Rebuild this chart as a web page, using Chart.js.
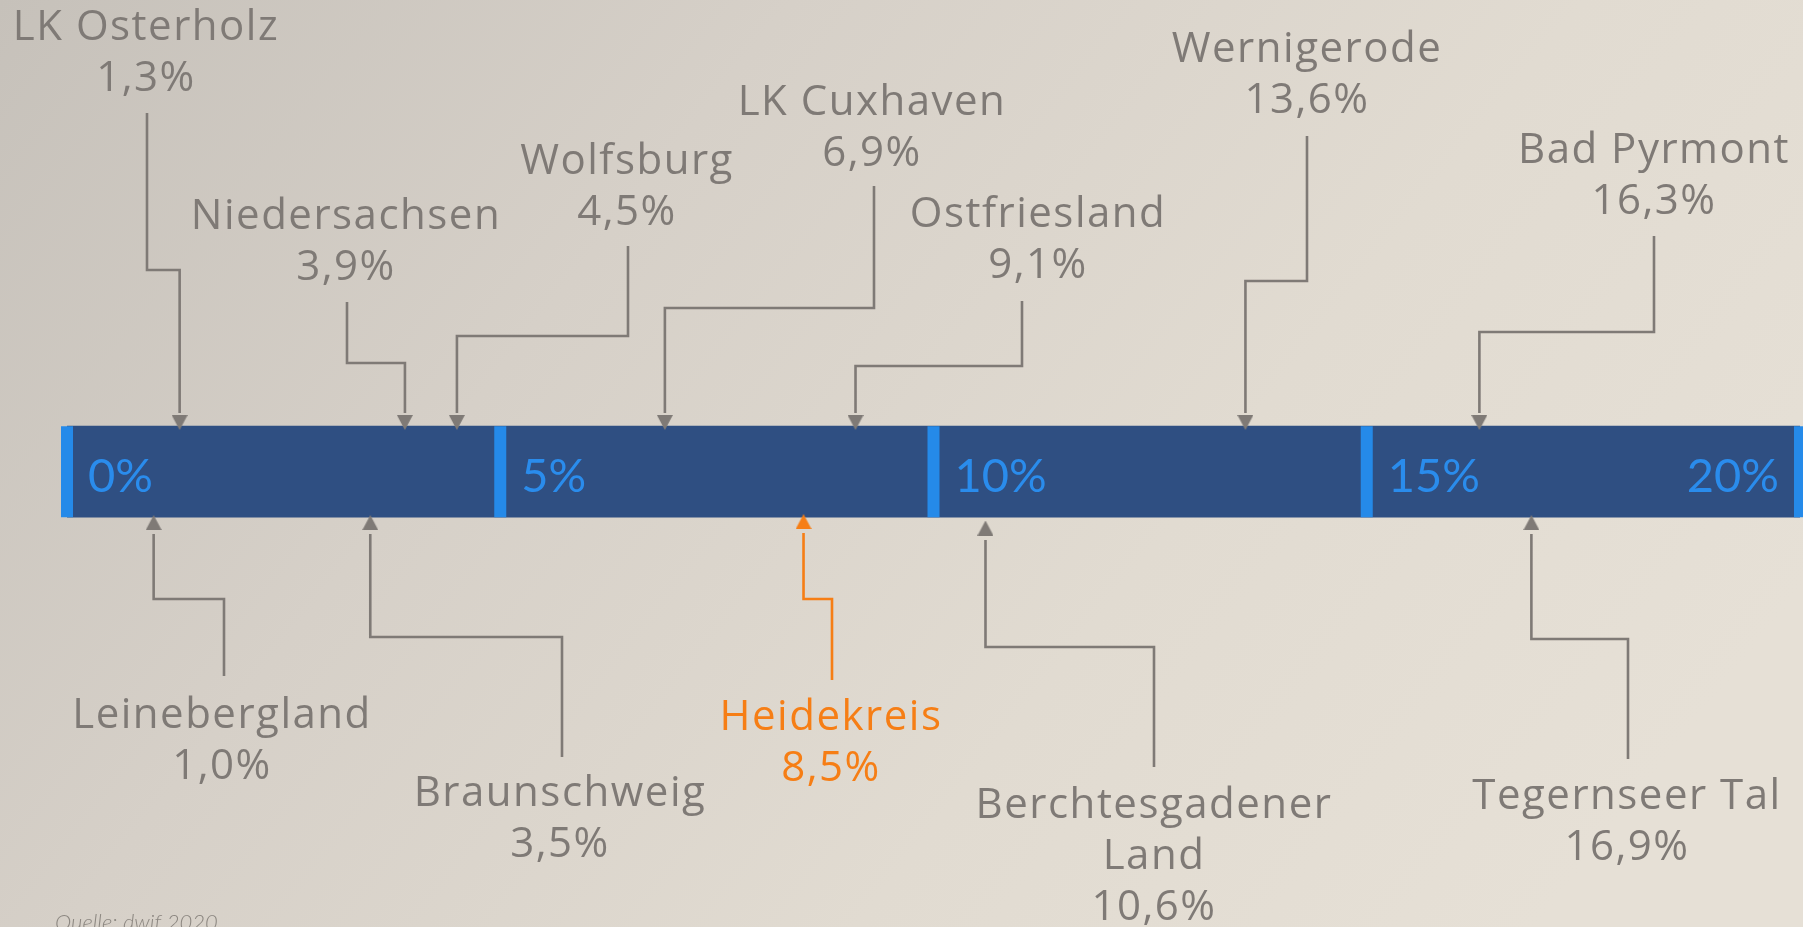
<!DOCTYPE html>
<html><head><meta charset="utf-8">
<script src="https://cdn.jsdelivr.net/npm/chart.js@4"></script>
<style>html,body{margin:0;padding:0;overflow:hidden;background:#d8d2c9}canvas{display:block}</style>
</head><body>
<canvas id="c" width="1803" height="927"></canvas>
<script>
// ---------- DATA ----------
const categories = ["LK Osterholz","Niedersachsen","Wolfsburg","LK Cuxhaven","Ostfriesland","Wernigerode","Bad Pyrmont","Leinebergland","Braunschweig","Heidekreis","Berchtesgadener Land","Tegernseer Tal"];
const shares = [1.3, 3.9, 4.5, 6.9, 9.1, 13.6, 16.3, 1.0, 3.5, 8.5, 10.6, 16.9];
const highlighted = ["Heidekreis"];
const tickValues = [0, 5, 10, 15, 20];
const tickLabels = ["0%", "5%", "10%", "15%", "20%"];
const sourceNote = "Quelle: dwif 2020";

// ---------- LAYOUT (pixels) ----------
const BAND = { top: 427, bottom: 518, center: 472.5, thickness: 91, padFrom: -0.07, padTo: 0.05 };
const ARROW_W = 16, ARROW_H = 15, TOP_TIP = 426;
const LINE_GAP = 51;
const labelLayout = {
  "LK Osterholz":        { side: "top", tx: 146,  by: 40,  lx: 147,  ly: 113, ey: 270 },
  "Niedersachsen":       { side: "top", tx: 346,  by: 229, lx: 347,  ly: 302, ey: 363 },
  "Wolfsburg":           { side: "top", tx: 627,  by: 174, lx: 628,  ly: 246, ey: 336 },
  "LK Cuxhaven":         { side: "top", tx: 872,  by: 115, lx: 874,  ly: 186, ey: 308 },
  "Ostfriesland":        { side: "top", tx: 1038, by: 227, lx: 1022, ly: 301, ey: 366 },
  "Wernigerode":         { side: "top", tx: 1307, by: 62,  lx: 1307, ly: 136, ey: 281 },
  "Bad Pyrmont":         { side: "top", tx: 1654, by: 163, lx: 1654, ly: 236, ey: 332 },
  "Leinebergland":       { side: "bottom", tx: 222,  by: 728, lx: 224,  ly: 676, ey: 599, tip: 521 },
  "Braunschweig":        { side: "bottom", tx: 560,  by: 806, lx: 562,  ly: 757, ey: 637, tip: 521 },
  "Heidekreis":          { side: "bottom", tx: 831,  by: 730, lx: 832,  ly: 680, ey: 599, tip: 520 },
  "Berchtesgadener Land":{ side: "bottom", tx: 1154, by: 818, lx: 1154, ly: 767, ey: 647, tip: 527, wrap: true },
  "Tegernseer Tal":      { side: "bottom", tx: 1627, by: 809, lx: 1628, ly: 759, ey: 639, tip: 521 }
};

const NAVY = "#2f4f82", TICK_BLUE = "#258ae9", TICK_TEXT = "#2a8cec";
const GRAY = "#7f7a76", ORANGE = "#f67e15";
const LABEL_FONT = '42px "Open Sans"';

const fmt = v => v.toFixed(1).replace('.', ',') + '%';
const colorOf = n => highlighted.includes(n) ? ORANGE : GRAY;

function makeArrow(color) {
  const c = document.createElement('canvas');
  c.width = ARROW_W; c.height = ARROW_H;
  const x = c.getContext('2d');
  x.fillStyle = color;
  x.beginPath(); x.moveTo(ARROW_W / 2, 0); x.lineTo(ARROW_W, ARROW_H); x.lineTo(0, ARROW_H); x.closePath(); x.fill();
  return c;
}
const arrowImg = { [GRAY]: makeArrow(GRAY), [ORANGE]: makeArrow(ORANGE) };

const annotate = {
  id: 'annotate',
  beforeDraw(chart) {
    const ctx = chart.ctx, W = chart.width, H = chart.height;
    const g = ctx.createLinearGradient(0, 0, 1400, 1100);
    g.addColorStop(0, "#c6c1ba");
    g.addColorStop(0.35, "#d6d0c8");
    g.addColorStop(0.7, "#e1dbd1");
    g.addColorStop(1, "#e6e0d6");
    ctx.save(); ctx.fillStyle = g; ctx.fillRect(0, 0, W, H); ctx.restore();
  },
  afterDatasetsDraw(chart) {
    const ctx = chart.ctx, xs = chart.scales.x, ys = chart.scales.y;
    ctx.save();
    // tick labels inside band
    ctx.font = '47px Lato';
    ctx.fillStyle = TICK_TEXT;
    ctx.textBaseline = 'alphabetic';
    const lb = ys.getPixelForValue(BAND.center) + 20;
    tickValues.forEach((v, i) => {
      const px = xs.getPixelForValue(v);
      if (i === tickValues.length - 1) { ctx.textAlign = 'right'; ctx.fillText(tickLabels[i], px - 21, lb); }
      else { ctx.textAlign = 'left'; ctx.fillText(tickLabels[i], px + 21, lb); }
    });
    // leader lines + labels
    ctx.lineWidth = 2.6;
    ctx.lineJoin = 'miter';
    ctx.lineCap = 'butt';
    categories.forEach((name, i) => {
      const L = labelLayout[name];
      const ax = xs.getPixelForValue(shares[i]);
      const col = colorOf(name);
      const end = L.side === 'top' ? TOP_TIP - ARROW_H + 2 : L.tip + ARROW_H - 2;
      ctx.strokeStyle = col;
      ctx.beginPath();
      ctx.moveTo(L.lx, L.ly);
      ctx.lineTo(L.lx, L.ey);
      ctx.lineTo(ax, L.ey);
      ctx.lineTo(ax, end);
      ctx.stroke();
      const lines = (L.wrap ? name.split(' ') : [name]).concat([fmt(shares[i])]);
      ctx.fillStyle = col;
      ctx.font = LABEL_FONT;
      ctx.letterSpacing = '1.5px';
      ctx.textAlign = 'center';
      lines.forEach((t, k) => ctx.fillText(t, L.tx, L.by + k * LINE_GAP));
      ctx.letterSpacing = '0px';
    });
    // source
    ctx.font = 'italic 300 22px Lato';
    ctx.fillStyle = '#8c8781';
    ctx.textAlign = 'left';
    ctx.fillText(sourceNote, 55, 930);
    ctx.restore();
  }
};

new Chart(document.getElementById('c'), {
  type: 'scatter',
  data: {
    datasets: [
      {
        type: 'bar', indexAxis: 'y', order: 3,
        data: [{ y: BAND.center, x: [tickValues[0] + BAND.padFrom, tickValues[tickValues.length - 1] + BAND.padTo] }],
        backgroundColor: NAVY, borderWidth: 0, barThickness: BAND.thickness
      },
      {
        type: 'scatter', order: 2, clip: false,
        data: tickValues.map(v => ({ x: v, y: BAND.center })),
        pointStyle: 'line', rotation: 90, radius: BAND.thickness / 2, borderWidth: 12,
        borderColor: TICK_BLUE, hoverRadius: BAND.thickness / 2
      },
      {
        type: 'scatter', order: 1, clip: false,
        data: categories.map((n, i) => {
          const L = labelLayout[n];
          return { x: shares[i], y: L.side === 'top' ? TOP_TIP - ARROW_H / 2 : L.tip + ARROW_H / 2 };
        }),
        pointStyle: categories.map(n => arrowImg[colorOf(n)]),
        rotation: categories.map(n => labelLayout[n].side === 'top' ? 180 : 0),
        radius: ARROW_W / 2, hoverRadius: ARROW_W / 2, borderWidth: 0,
        backgroundColor: categories.map(colorOf), borderColor: categories.map(colorOf)
      }
    ]
  },
  options: {
    responsive: false, devicePixelRatio: 1, animation: false, events: [],
    layout: { autoPadding: false, padding: { left: 67, right: 3, top: 0, bottom: 0 } },
    plugins: { legend: { display: false }, tooltip: { enabled: false } },
    scales: {
      x: { type: 'linear', min: 0, max: 20, display: false },
      y: { type: 'linear', min: 0, max: 927, reverse: true, display: false }
    }
  },
  plugins: [annotate]
});
</script>
</body></html>
